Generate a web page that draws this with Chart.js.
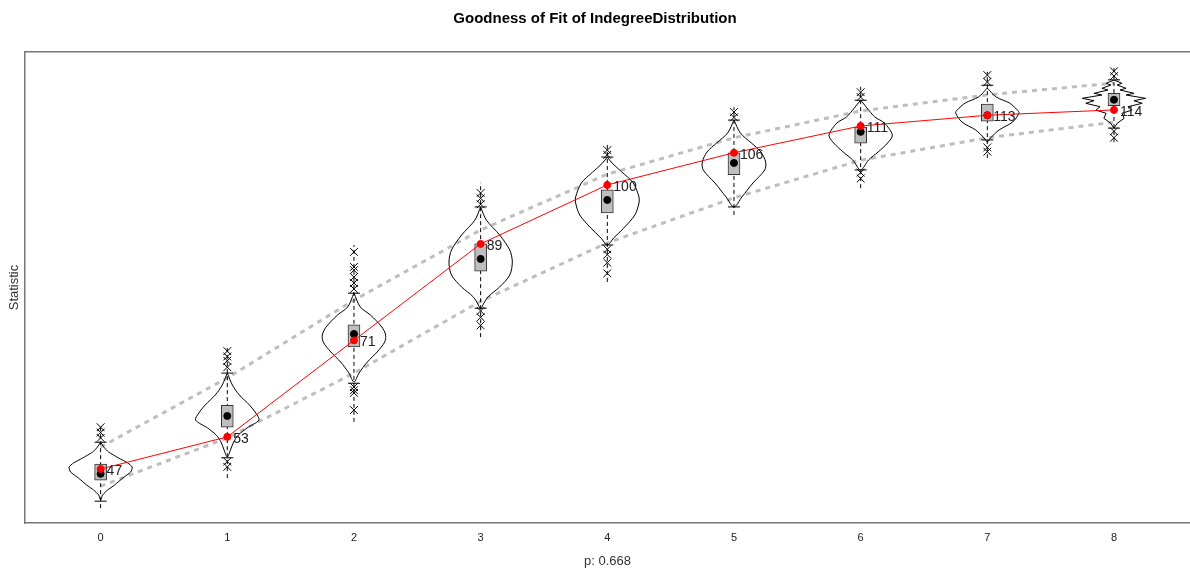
<!DOCTYPE html>
<html lang="en">
<head>
<meta charset="UTF-8">
<title>Goodness of Fit of IndegreeDistribution</title>
<script src="https://cdn.jsdelivr.net/npm/chart.js"></script>
<style>
  html, body { margin: 0; padding: 0; background: #fff; }
  #wrap { width: 1190px; height: 574px; position: relative; }
</style>
</head>
<body>
<div id="wrap"><canvas id="gof"></canvas></div>
<script>
// indegree values 0..8
const categories = [0, 1, 2, 3, 4, 5, 6, 7, 8];
const observed = [47, 53, 71, 89, 100, 106, 111, 113, 114];

// simulated networks
const simMean = [46.1, 56.9, 72.2, 86.2, 97.2, 104.1, 109.9, 113.0, 115.9];
const boxLow = [44.9, 54.8, 69.8, 83.9, 94.8, 101.9, 107.8, 111.9, 114.8];
const boxHigh = [47.9, 58.9, 73.9, 89.0, 99.1, 106.0, 110.8, 115.1, 117.1];
const whiskerLow = [41.0, 49.1, 63.0, 77.0, 88.8, 95.9, 102.8, 108.4, 110.6];
const whiskerHigh = [52.0, 64.9, 79.8, 95.9, 105.2, 112.1, 115.8, 118.6, 119.6];
const rangeLow = [39.7, 45.3, 55.8, 71.6, 81.9, 94.4, 99.4, 105.0, 108.0];
const rangeHigh = [55.2, 69.8, 88.8, 100.4, 107.8, 114.5, 118.3, 121.1, 121.8];
const outliersHigh = [
  [54.8, 53.8, 52.8], [69.0, 68.0, 67.2, 66.0], [87.5, 84.7, 84.1, 82.8, 81.7, 80.6],
  [98.5, 97.5, 96.4], [106.5, 105.6], [113.6, 112.6], [117.3, 116.4], [120.5, 119.2], [121.2, 120.3]
];
const outliersLow = [
  [], [48.4, 47.4], [62.3, 61.7, 61.2, 58.0], [76.5, 75.3, 73.8], [88.0, 87.0, 85.5, 83.5],
  [], [102.3, 101.2], [107.0, 106.2], [110.0, 108.8]
];

// dashed bands
const upperQ = [51.1, 64.0, 78.5, 91.6, 102.0, 108.8, 113.8, 116.8, 119.0];
const lowerQ = [43.8, 52.8, 64.9, 78.3, 89.2, 97.6, 104.6, 108.8, 111.7];

// violin outlines: levels (top to bottom) and relative half widths
const violinLevels = [
  [52.04, 51.10, 50.17, 49.05, 48.12, 47.37, 46.44, 45.32, 44.01, 43.08, 42.15, 41.22],
  [64.91, 62.67, 60.81, 58.94, 57.45, 56.14, 54.65, 53.34, 52.04, 50.54, 49.24],
  [79.84, 77.22, 75.73, 73.49, 72.00, 70.69, 68.83, 66.96, 64.91, 63.23],
  [95.88, 93.46, 90.66, 87.86, 85.62, 83.19, 80.96, 79.09, 77.60, 76.85],
  [105.21, 104.09, 102.41, 100.36, 97.75, 96.63, 94.39, 91.96, 90.10, 88.79],
  [112.11, 109.69, 107.82, 106.15, 104.28, 102.78, 100.36, 97.75, 95.88],
  [115.84, 114.35, 112.67, 111.55, 109.31, 107.82, 106.14, 104.65, 102.78],
  [118.08, 116.40, 115.28, 113.97, 113.41, 111.74, 110.25, 108.75, 108.00],
  [119.57, 118.96, 118.64, 118.03, 117.71, 117.09, 116.78, 116.16, 115.71, 115.23, 114.59, 113.97, 113.36, 112.43, 111.49, 110.56]
];
const violinWidths = [
  [0, 0.10, 0.25, 0.57, 0.86, 1.0, 0.95, 0.70, 0.44, 0.22, 0.06, 0],
  [0, 0.16, 0.38, 0.70, 0.90, 1.0, 0.62, 0.35, 0.20, 0.10, 0],
  [0, 0.20, 0.52, 0.88, 1.0, 0.97, 0.73, 0.42, 0.16, 0],
  [0, 0.18, 0.60, 0.92, 1.0, 0.92, 0.60, 0.23, 0.07, 0],
  [0, 0.15, 0.46, 0.82, 1.0, 1.0, 0.87, 0.52, 0.20, 0],
  [0, 0.20, 0.55, 0.85, 1.0, 0.97, 0.60, 0.25, 0],
  [0, 0.20, 0.45, 0.75, 1.0, 0.85, 0.55, 0.25, 0],
  [0, 0.28, 0.70, 0.95, 1.0, 0.80, 0.37, 0.10, 0],
  [0, 0.25, 0.10, 0.38, 0.19, 0.63, 0.38, 1.0, 0.63, 0.89, 0.44, 0.57, 0.25, 0.32, 0.10, 0]
];

const chartTitle = 'Goodness of Fit of IndegreeDistribution';
const xTitle = 'p: 0.668';
const yTitle = 'Statistic';

const violinHalf = 0.25;
const grey = '#bebebe';
const frame = '#777';

Chart.defaults.font.family = '"Liberation Sans", Arial, sans-serif';

const datasets = [];

datasets.push({
  type: 'scatter', data: categories.map((c, i) => ({x: c, y: upperQ[i]})),
  showLine: true, borderColor: grey, borderWidth: 3, borderDash: [5, 5], pointRadius: 0, order: 9
});
datasets.push({
  type: 'scatter', data: categories.map((c, i) => ({x: c, y: lowerQ[i]})),
  showLine: true, borderColor: grey, borderWidth: 3, borderDash: [5, 5], pointRadius: 0, order: 9
});

categories.forEach((c, i) => {
  const lv = violinLevels[i], w = violinWidths[i];
  const right = lv.map((y, k) => ({x: c + w[k] * violinHalf, y}));
  const left = lv.map((y, k) => ({x: c - w[k] * violinHalf, y})).reverse().slice(1);
  datasets.push({
    type: 'scatter', data: right.concat(left), showLine: true,
    borderColor: '#000', borderWidth: 1, pointRadius: 0,
    tension: i === 8 ? 0 : (i === 0 ? 0.15 : 0.3), order: 8
  });
  datasets.push({
    type: 'scatter', data: [{x: c, y: rangeLow[i]}, {x: c, y: rangeHigh[i]}], showLine: true,
    borderColor: '#000', borderWidth: 1, borderDash: [4, 3], pointRadius: 0, order: 7
  });
});

const crossPts = [];
categories.forEach((c, i) => {
  outliersHigh[i].concat(outliersLow[i]).forEach(v => crossPts.push({x: c, y: v}));
});
datasets.push({
  type: 'scatter', data: crossPts, pointStyle: 'crossRot', pointRadius: 5.5,
  borderColor: '#000', borderWidth: 1, order: 6
});

const capPts = [];
categories.forEach((c, i) => {
  capPts.push({x: c, y: whiskerLow[i]}, {x: c, y: whiskerHigh[i]});
});
datasets.push({
  type: 'scatter', data: capPts, pointStyle: 'line', pointRadius: 6,
  borderColor: '#000', borderWidth: 1, order: 6
});

datasets.push({
  type: 'bar', data: categories.map((c, i) => ({x: c, y: [boxLow[i], boxHigh[i]]})),
  barThickness: 12, backgroundColor: grey, borderColor: '#333', borderWidth: 1,
  borderSkipped: false, grouped: false, order: 5
});

datasets.push({
  type: 'scatter', data: categories.map((c, i) => ({x: c, y: simMean[i]})),
  pointRadius: 3.5, backgroundColor: '#000', borderColor: '#000', order: 4
});

datasets.push({
  type: 'scatter', data: categories.map((c, i) => ({x: c, y: observed[i]})),
  showLine: true, borderColor: '#ff0000', borderWidth: 1,
  pointRadius: 3.5, pointBackgroundColor: '#ff0000', pointBorderColor: '#ff0000', order: 1
});

const valueLabels = {
  id: 'valueLabels',
  afterDatasetsDraw(chart) {
    const {ctx, scales: {x, y}} = chart;
    ctx.save();
    ctx.font = '14px "Liberation Sans", Arial, sans-serif';
    ctx.fillStyle = '#222';
    ctx.textAlign = 'left';
    ctx.textBaseline = 'middle';
    observed.forEach((v, i) => {
      ctx.fillText(String(v), x.getPixelForValue(categories[i]) + 6, y.getPixelForValue(v) + 2);
    });
    ctx.restore();
  }
};

const xMin = -0.597, xMax = 8.6;

new Chart(document.getElementById('gof'), {
  type: 'scatter',
  data: { datasets },
  plugins: [valueLabels],
  options: {
    responsive: true,
    maintainAspectRatio: false,
    animation: false,
    layout: { padding: 0, autoPadding: false },
    plugins: {
      legend: { display: false },
      tooltip: { enabled: false },
      title: {
        display: true, text: chartTitle, color: '#000',
        font: { size: 15, weight: 'bold' }, padding: { top: 10, bottom: 24 }
      }
    },
    scales: {
      x: {
        type: 'linear', min: xMin, max: xMax, offset: false,
        grid: { display: false, drawTicks: false },
        border: { display: true, color: frame, width: 1.5 },
        ticks: { color: '#222', font: { size: 11 }, padding: 8, autoSkip: false, maxRotation: 0 },
        afterBuildTicks: s => { s.ticks = categories.map(v => ({value: v})); },
        afterFit: s => { s.height = 51; },
        title: { display: true, text: xTitle, color: '#333', font: { size: 13 }, padding: { top: 0, bottom: 5 } }
      },
      xTop: {
        type: 'linear', position: 'top', min: xMin, max: xMax,
        grid: { display: false, drawTicks: false },
        border: { display: true, color: frame, width: 1.5 },
        ticks: { display: false },
        afterFit: s => { s.height = 0; }
      },
      y: {
        min: 36.93, max: 124.8,
        grid: { display: false, drawTicks: false },
        border: { display: true, color: frame, width: 1.5 },
        ticks: { display: false },
        afterFit: s => { s.width = 25; },
        title: { display: true, text: yTitle, color: '#333', font: { size: 13 }, padding: { top: 7, bottom: 0 } }
      }
    }
  }
});
</script>
</body>
</html>
